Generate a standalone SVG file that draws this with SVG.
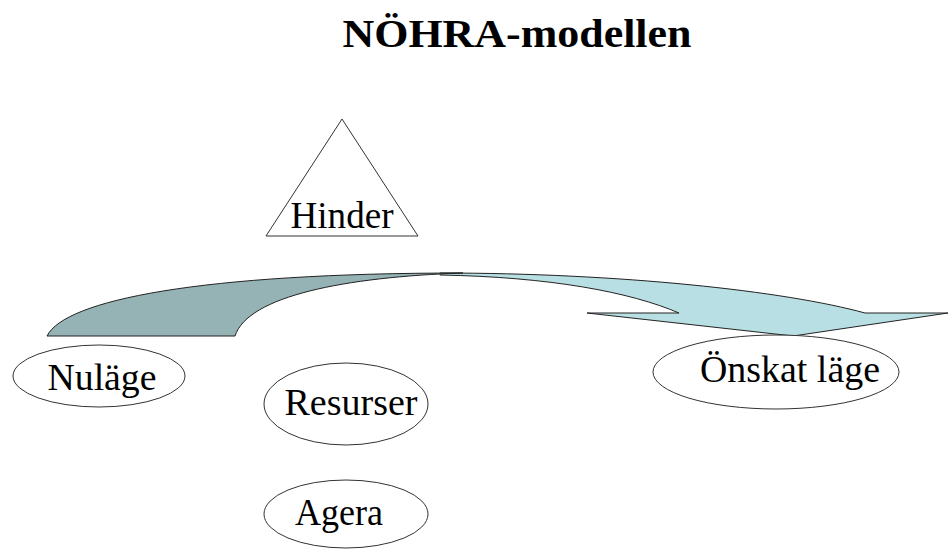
<svg xmlns="http://www.w3.org/2000/svg" width="949" height="549" viewBox="0 0 949 549">
<style>
text{font-family:"Liberation Serif","Times New Roman",serif;fill:#000;text-anchor:middle}
.t{font-size:38px}
.title{font-size:40px;font-weight:bold}
.sh{fill:#fff;stroke:#333;stroke-width:1}
.arr{stroke:#222;stroke-width:1;stroke-linejoin:miter}
</style>
<rect width="949" height="549" fill="#fff"/>
<text class="title" x="517" y="47" textLength="349" lengthAdjust="spacingAndGlyphs">NÖHRA-modellen</text>
<g id="connectors">
<path class="arr" fill="#b8dfe3" d="M440,273 C 620,273 785,291 865,313 L948,313 L793,336 L587,313 L679,313 C 630,292 550,277 440,275 Z"/>
<path class="arr" fill="#95b2b5" d="M47,336 C 65,300 200,273 463,273 C 345,277 248,296 235,336 Z"/>
</g>
<g id="hinder">
<polygon class="sh" points="342,119 266,236 418,236"/>
<text class="t" x="342" y="228" textLength="103" lengthAdjust="spacingAndGlyphs">Hinder</text>
</g>
<g id="nulage">
<ellipse class="sh" cx="99" cy="376" rx="86" ry="31"/>
<text class="t" x="102" y="390" textLength="109" lengthAdjust="spacingAndGlyphs">Nuläge</text>
</g>
<g id="resurser">
<ellipse class="sh" cx="346" cy="404" rx="82" ry="41"/>
<text class="t" x="351" y="415" textLength="133" lengthAdjust="spacingAndGlyphs">Resurser</text>
</g>
<g id="agera">
<ellipse class="sh" cx="346" cy="514" rx="82" ry="34"/>
<text class="t" x="339" y="525" textLength="88" lengthAdjust="spacingAndGlyphs">Agera</text>
</g>
<g id="onskat">
<ellipse class="sh" cx="776" cy="372" rx="123" ry="37"/>
<text class="t" x="790" y="382" textLength="180" lengthAdjust="spacingAndGlyphs">Önskat läge</text>
</g>
</svg>
